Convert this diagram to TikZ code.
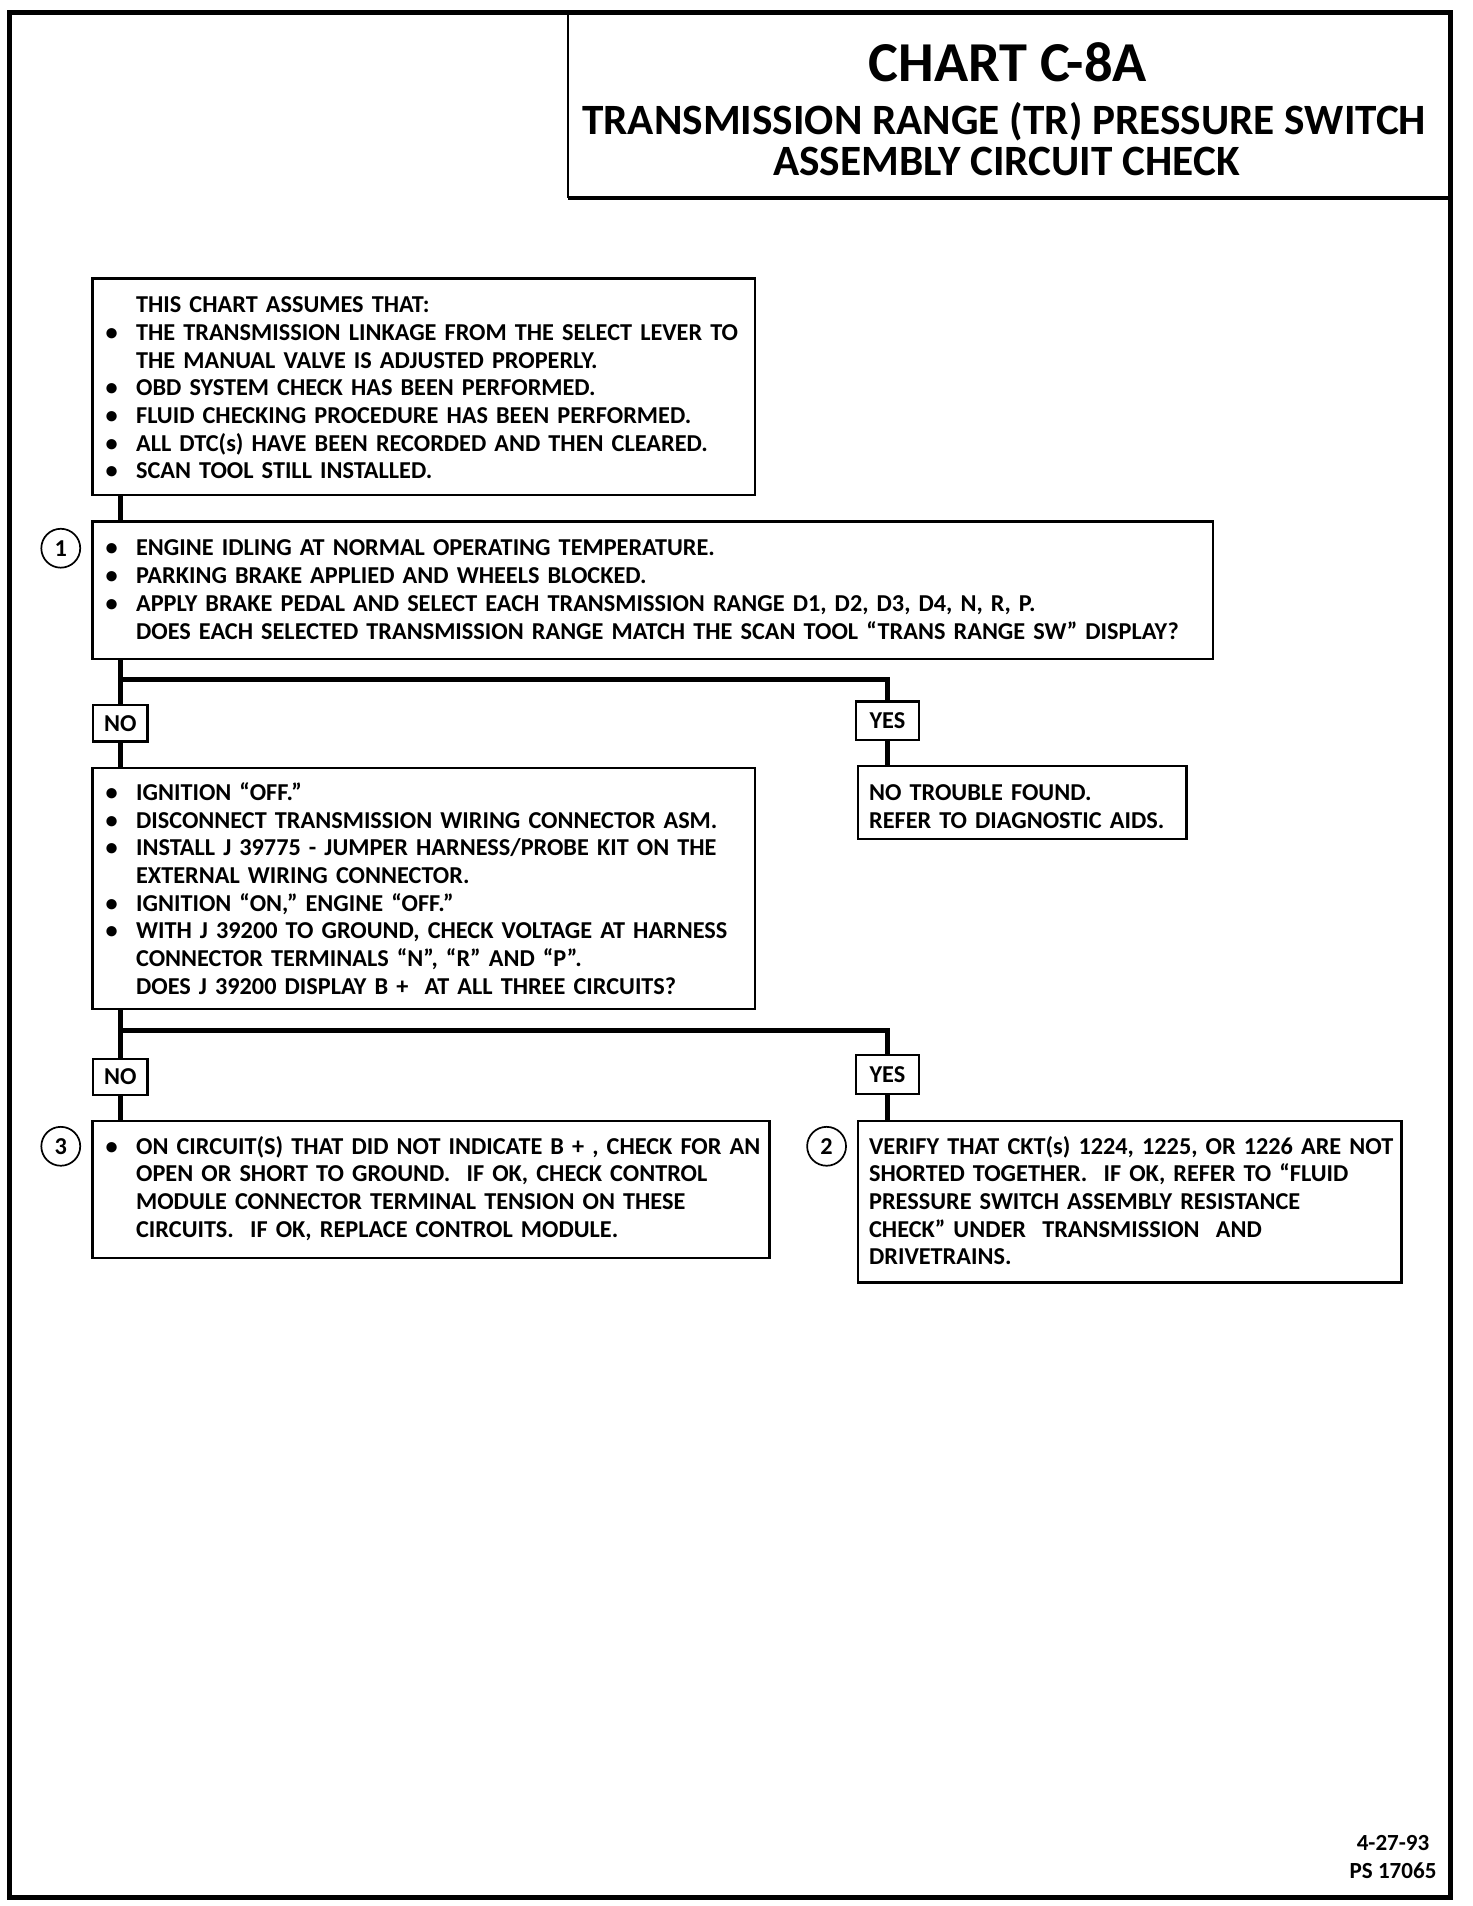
\documentclass[tikz,border=0pt]{standalone}
\usepackage{fontspec}
\setmainfont{Carlito}
\usepackage{tikz}
\usetikzlibrary{positioning}
\newdimen\pxu
\pxu=0.25mm
\newcommand\bl[1]{\makebox[25\pxu][l]{\textbullet}\mbox{#1}}
\newcommand\il[1]{\makebox[25\pxu]{}\mbox{#1}}
\newcommand\pl[1]{\mbox{#1}}

\begin{document}
\begin{tikzpicture}[x=0.25mm,y=-0.25mm,
  txt/.style={font=\fontsize{14.2}{16.2}\selectfont\bfseries},
  chk/.style={draw,line width=1.4pt,anchor=north west,inner xsep=2.75mm,inner ysep=0pt,align=left,txt},
  tag/.style={draw,line width=1.4pt,inner sep=0pt,minimum width=11.25mm,minimum height=7.5mm,txt},
  num/.style={draw,circle,line width=1pt,minimum size=8mm,inner sep=0pt,txt},
  wire/.style={line width=3pt}]
\useasboundingbox (0,0) rectangle (1211,1568);
\draw[line width=3pt] (8,10) rectangle (1193,1561);
\draw[line width=1pt] (467,10) -- (467,163);
\draw[line width=2pt] (467,163) -- (1193,163);
\node[anchor=base,font=\fontsize{33}{33}\selectfont\bfseries] (chart) at (829,67) {CHART C-8A};
\node[anchor=base,font=\fontsize{25.3}{25.3}\selectfont\bfseries] (ttla) at (826,111) {TRANSMISSION RANGE (TR) PRESSURE SWITCH};
\node[anchor=base,font=\fontsize{25.3}{25.3}\selectfont\bfseries] (ttlb) at (828,144) {ASSEMBLY CIRCUIT CHECK};
\node[chk,text width=130.75mm,text height=7.1mm,text depth=37.4mm] (boxA) at (75,228) {%
\il{THIS CHART ASSUMES THAT:}\\
\bl{THE TRANSMISSION LINKAGE FROM THE SELECT LEVER TO}\\
\il{THE MANUAL VALVE IS ADJUSTED PROPERLY.}\\
\bl{OBD SYSTEM CHECK HAS BEEN PERFORMED.}\\
\bl{FLUID CHECKING PROCEDURE HAS BEEN PERFORMED.}\\
\bl{ALL DTC(s) HAVE BEEN RECORDED AND THEN CLEARED.}\\
\bl{SCAN TOOL STILL INSTALLED.}};
\node[chk,text width=225mm,text height=7.1mm,text depth=21.15mm] (box1) at (75,428) {%
\bl{ENGINE IDLING AT NORMAL OPERATING TEMPERATURE.}\\
\bl{PARKING BRAKE APPLIED AND WHEELS BLOCKED.}\\
\bl{APPLY BRAKE PEDAL AND SELECT EACH TRANSMISSION RANGE D1, D2, D3, D4, N, R, P.}\\
\il{DOES EACH SELECTED TRANSMISSION RANGE MATCH THE SCAN TOOL “TRANS RANGE SW” DISPLAY?}};
\node[num] (n1) at (50,451) {1};
\node[tag] (no1) at (99,595) {NO};
\node[tag,minimum width=13mm,minimum height=8mm] (yes1) at (730,593) {YES};
\node[chk,text width=130.75mm,text height=6.6mm,text depth=42.9mm] (box2) at (75,631) {%
\bl{IGNITION “OFF.”}\\
\bl{DISCONNECT TRANSMISSION WIRING CONNECTOR ASM.}\\
\bl{INSTALL J 39775 - JUMPER HARNESS/PROBE KIT ON THE}\\
\il{EXTERNAL WIRING CONNECTOR.}\\
\bl{IGNITION “ON,” ENGINE “OFF.”}\\
\bl{WITH J 39200 TO GROUND, CHECK VOLTAGE AT HARNESS}\\
\il{CONNECTOR TERMINALS “N”, “R” AND “P”.}\\
\il{DOES J 39200 DISPLAY B + \ AT ALL THREE CIRCUITS?}};
\node[chk,inner xsep=2.25mm,text width=63mm,text height=7.1mm,text depth=7.9mm] (ntf) at (705,629) {%
\pl{NO TROUBLE FOUND.}\\
\pl{REFER TO DIAGNOSTIC AIDS.}};
\node[tag] (no2) at (99,886) {NO};
\node[tag,minimum width=13mm,minimum height=8mm] (yes2) at (730,884) {YES};
\node[chk,text width=133.75mm,text height=6.85mm,text depth=21.4mm] (box3) at (75,921) {%
\bl{ON CIRCUIT(S) THAT DID NOT INDICATE B + , CHECK FOR AN}\\
\il{OPEN OR SHORT TO GROUND.\ \ IF OK, CHECK CONTROL}\\
\il{MODULE CONNECTOR TERMINAL TENSION ON THESE}\\
\il{CIRCUITS.\ \ IF OK, REPLACE CONTROL MODULE.}};
\node[num] (n3) at (50,943) {3};
\node[chk,inner xsep=2.25mm,text width=107.25mm,text height=6.85mm,text depth=26.4mm] (box4) at (705,921) {%
\pl{VERIFY THAT CKT(s) 1224, 1225, OR 1226 ARE NOT}\\
\pl{SHORTED TOGETHER.\ \ IF OK, REFER TO “FLUID}\\
\pl{PRESSURE SWITCH ASSEMBLY RESISTANCE}\\
\pl{CHECK” UNDER \ TRANSMISSION \ AND}\\
\pl{DRIVETRAINS.}};
\node[num] (n2) at (680,943) {2};
\coordinate (split1) at (99,559);
\coordinate (split2) at (99,848);
\draw[wire] (no1 |- boxA.south) -- (no1 |- box1.north);
\draw[wire] (no1 |- box1.south) -- (no1.north);
\draw[wire] (split1) -| (yes1.north);
\draw[wire] (no1.south) -- (no1 |- box2.north);
\draw[wire] (yes1.south) -- (yes1 |- ntf.north);
\draw[wire] (no2 |- box2.south) -- (no2.north);
\draw[wire] (split2) -| (yes2.north);
\draw[wire] (no2.south) -- (no2 |- box3.north);
\draw[wire] (yes2.south) -- (yes2 |- box4.north);
\node[anchor=base,font=\fontsize{13.5}{13.5}\selectfont\bfseries] (date) at (1146,1522) {4-27-93};
\node[anchor=base,font=\fontsize{13.5}{13.5}\selectfont\bfseries] (psno) at (1146,1545) {PS 17065};
\end{tikzpicture}
\end{document}
